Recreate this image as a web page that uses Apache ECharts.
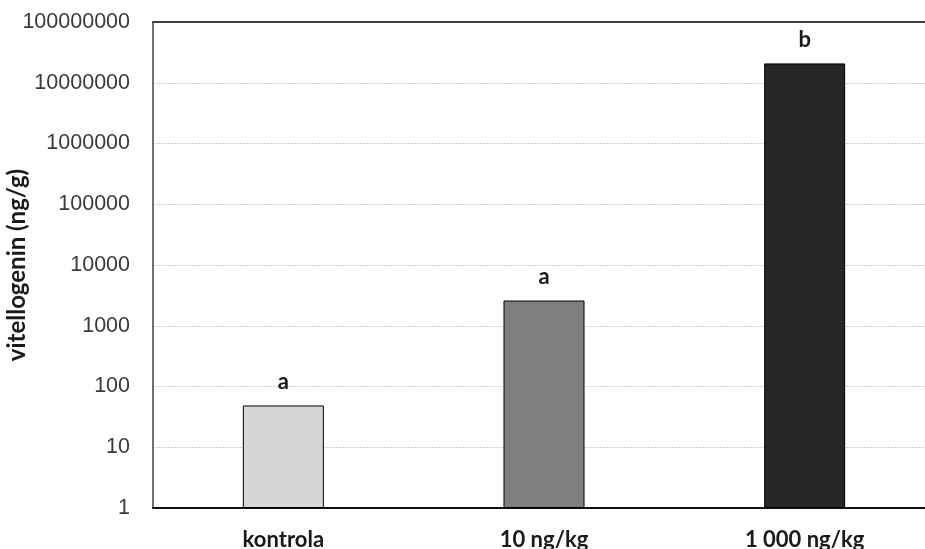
<!DOCTYPE html>
<html>
<head>
<meta charset="utf-8">
<script src="https://cdn.jsdelivr.net/npm/echarts@6/dist/echarts.min.js"></script>
<style>
html,body{margin:0;padding:0;background:#fff;overflow:hidden;}
#c{width:925px;height:549px;}
</style>
</head>
<body>
<div id="c"></div>
<script>
var categories = ['kontrola', '10 ng/kg', '1 000 ng/kg'];
var values = [48.7, 2600, 20800000];
var sigLetters = ['a', 'a', 'b'];
var barColors = ['#d6d6d6', '#7f7f7f', '#262626'];
var yAxisName = 'vitellogenin (ng/g)';

var chart = echarts.init(document.getElementById('c'), null, {renderer: 'canvas'});
var data = values.map(function (v, i) {
  return {
    value: v,
    itemStyle: {color: barColors[i]},
    label: {formatter: sigLetters[i]}
  };
});
chart.setOption({
  animation: false,
  grid: {left: 153, top: 22, width: 782, height: 486, show: false, containLabel: false, outerBoundsMode: 'none'},
  xAxis: [{
    type: 'category',
    data: categories,
    axisLine: {show: true, lineStyle: {color: '#111', width: 2}},
    axisTick: {show: false},
    splitLine: {show: false},
    splitArea: {show: false},
    axisLabel: {color: '#1a1a1a', fontFamily: 'Lato', fontWeight: 'bold', fontSize: 22, margin: 21}
  }, {
    type: 'category',
    position: 'top',
    data: categories,
    axisLine: {show: true, lineStyle: {color: '#404040', width: 2}},
    axisTick: {show: false},
    axisLabel: {show: false},
    splitLine: {show: false},
    splitArea: {show: false}
  }],
  yAxis: {
    type: 'log',
    logBase: 10,
    min: 1,
    max: 100000000,
    name: yAxisName,
    nameLocation: 'middle',
    nameGap: 124,
    nameRotate: 90,
    nameMoveOverlap: false,
    nameTextStyle: {color: '#1a1a1a', fontFamily: 'Lato', fontWeight: 'bold', fontSize: 24},
    axisLine: {show: true, lineStyle: {color: '#404040', width: 1.5}},
    axisTick: {show: false},
    splitLine: {show: true, lineStyle: {color: '#cfcfcf', width: 1, type: [2, 1]}},
    axisLabel: {
      color: '#3a3a3a',
      fontFamily: 'Liberation Sans',
      fontSize: 21.5,
      margin: 23,
      formatter: function (v) { return String(Math.round(v)); }
    }
  },
  series: [{
    type: 'bar',
    data: data,
    barWidth: 81,
    itemStyle: {borderColor: '#000', borderWidth: 1},
    label: {
      show: true,
      position: 'top',
      distance: 13,
      color: '#1a1a1a',
      fontFamily: 'Lato',
      fontWeight: 'bold',
      fontSize: 22
    }
  }]
});
</script>
</body>
</html>
